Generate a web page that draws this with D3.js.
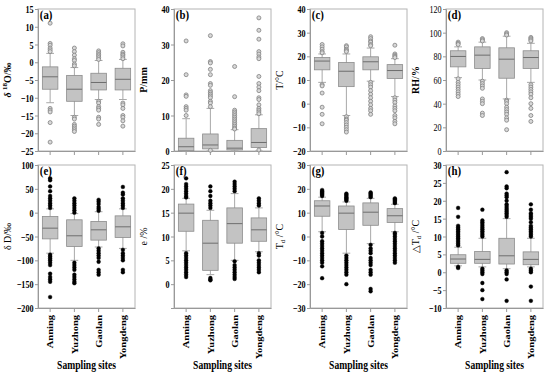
<!DOCTYPE html>
<html>
<head>
<meta charset="utf-8">
<script src="https://cdn.jsdelivr.net/npm/d3@7"></script>
<style>
  body { margin: 0; background: #fff; }
  text { font-family: "Liberation Serif", "Times New Roman", serif; }
</style>
</head>
<body>
<div id="chart"></div>
<script>
var sites = ["Anning", "Yuzhong", "Gaolan", "Yongdeng"];

// box stats per site: [whisker low, q1, median, q3, whisker high]
var d18O_box = [[-11.4, -7.6, -4.1, -1.3, 2.5], [-15, -11, -7.6, -3.7, -1.5], [-10.5, -7.8, -5.7, -3.1, 0.5], [-10.5, -7.8, -4.8, -1.7, 0.8]];
var d18O_out = [[11, 5.3, 4.8, 4, 3.5, 3, -13, -13.5, -14, -17, -22.5],
                [4, 3, 2, 1, 0.5, -0.5, -1, -15.5, -16, -17.5, -18, -18.5, -19, -19.5],
                [3.2, 2.7, 2.2, 1.8, 1.3, 0.8, -11, -11.5, -12.5, -13, -13.5, -15.5, -16, -17.5],
                [5.2, 4.6, 2.8, 2.3, 2, 1.5, 1, -11.5, -12, -13, -15, -15.5, -16.5, -18]];

var P_box = [[0, 0.1, 1.2, 3.6, 9.1], [0, 0.6, 1.7, 4.8, 12], [0, 0.3, 0.8, 3, 6], [0, 1, 2.4, 6.3, 10.2]];
var P_out = [[31, 21.5, 15.8, 15.4, 12.5, 12, 11.5, 10],
             [32.5, 25.2, 24.8, 23, 21.5, 19, 18.5, 17, 16.5, 16, 15.5, 15, 14, 13.5, 12.5, 0.2],
             [23.8, 15.3, 11.5, 11, 10.5, 10, 9.5, 9, 8.5, 8, 7.5, 7, 6.5, 6.2],
             [37.5, 34, 31.5, 28, 27.3, 26.5, 26, 21, 19, 18, 17, 15, 14.5, 13, 12, 11.5, 11, 10.5, 0.3]];

var T_box = [[9, 14.3, 18, 19.5, 21], [-5, 7.2, 13.7, 17.4, 21], [9.5, 14.3, 17.7, 19.8, 23.5], [3, 10.6, 14, 16.5, 19]];
var T_out = [[25, 24, 23, 22, 21.5, 8, 7.5, 4.5, -1.5, -4.5, -8.5],
             [24.5, 24, 23, 22.5, 22, -5.5, -6.5, -7, -8, -9, -10, -11, -12],
             [28.3, 27.5, 26.5, 26, 25, 24.5, 9, 8, 7, 5.5, 4, 2.5, 1, -0.5, -2, -3, -4.5],
             [24.7, 21, 20.5, 20, 19.5, 2.5, 1.5, 0.5, -1, -2, -3, -5, -6, -7.5, -8.5]];

var RH_box = [[62, 71.1, 79.9, 84.7, 88], [60, 69.7, 81, 88, 92], [44, 61.5, 77.6, 87.2, 97], [58, 69.7, 79, 84.7, 91]];
var RH_out = [[92, 91, 90, 61, 58, 56, 54, 52, 50, 48, 46],
              [95, 94, 93, 59, 57, 55, 53, 44, 42, 40, 32, 30],
              [100, 99, 98, 43, 42, 40, 37, 35, 33, 31, 28, 26, 18],
              [96, 95, 94, 93, 56, 54, 52, 50, 48, 45, 40, 36, 30, 25]];

var dD_box = [[-85, -55, -32.5, -8, 8], [-100, -71, -48.5, -15, -2], [-72, -57.6, -36, -18.5, 2], [-75, -52, -29.7, -6.7, 8]];
var dD_out = [[72, 68, 55, 45, 35, 30, 25, 20, 15, 10, -88, -92, -96, -100, -105, -110, -128, -135, -140, -145, -177],
              [30, 25, 20, 15, 10, 5, 0, -105, -110, -115, -120, -130, -135, -140, -145, -148],
              [27, 23, 18, 12, 8, 4, -75, -80, -85, -90, -95, -103, -120, -125, -130],
              [54, 42, 38, 30, 25, 20, 15, 10, -78, -85, -90, -95, -100, -120, -125]];

var e_box = [[7, 11.1, 14.9, 16.8, 18], [2, 2.9, 8.6, 13.4, 15.5], [5, 8.6, 12.7, 16, 19], [6.8, 9, 11.4, 13.9, 16]];
var e_out = [[22.2, 21, 20.5, 20, 19.5, 19, 18.5, 18.2, 6.5, 6, 5.5, 5, 4.5, 4, 3.5, 3, 2.5, 2, 1.5],
             [20.5, 19.5, 18.5, 17.5, 17, 16.5, 16, 1.3, 1, 0.8],
             [21.5, 21, 20.5, 20, 19.5, 4.8, 4, 3.5, 3, 2.5, 2, 1.5, 1.1],
             [18, 17.5, 17, 16.5, 6.5, 6, 5, 4.5, 4, 3.5, 3, 2.5]];

var Td_box = [[2, 8.5, 12.8, 15, 16.5], [-7, 2.9, 9.8, 12.8, 14.5], [-3, 4.7, 10.2, 14.1, 16], [2, 5.9, 8.7, 11.7, 13.5]];
var Td_out = [[19.5, 19, 18.5, 18, 17.5, 17, 1.5, 0, -2, -3, -4, -5, -6, -7, -8, -9, -10, -11, -12.5, -17.5],
              [18, 17.5, 17, 16.5, 16, 15.5, 15, -8, -9, -10, -11, -12, -13, -14, -15, -16, -20],
              [18.5, 18, 17.5, 17, 16.5, -3.5, -5, -6, -7, -9, -10, -11, -12, -14, -15, -16, -22, -23],
              [16, 15.5, 15, 14.5, 14, 1.5, 1, 0, -1, -2, -3, -4, -5, -6, -7, -8, -9, -10, -11]];

var dTd_box = [[1.8, 2.5, 3.7, 4.9, 7], [1.5, 2.5, 3.6, 5.8, 9.5], [1, 2.3, 4.6, 9.5, 15], [1.5, 2.1, 3.6, 5.7, 9.5]];
var dTd_out = [[18, 15.5, 13, 12.5, 12, 11.5, 11, 10.5, 10, 9.5, 9, 8.5, 8, 7.5, 1.5, 1.2],
               [17.5, 14.5, 14, 13.5, 13, 12.5, 12, 11.5, 11, 10.5, 10, 1, 0.5, 0, -0.5, -3, -5, -7.5],
               [28, 24, 23.5, 22, 21.5, 21, 20, 19, 18.5, 18, 17.5, 17, 16.5, 16, 15.5, 0.5, 0, -0.5, -2, -8],
               [19, 17.5, 16.5, 16, 15.5, 15, 14, 13, 12.5, 12, 11.5, 11, 10.5, 10, 1, 0.5, 0, -4, -8]];

var panels = [
  {tag: "(a)", box: d18O_box, out: d18O_out, domain: [-25, 15], ticks: d3.range(-25, 16, 5), label: "d18O", bold: true},
  {tag: "(b)", box: P_box, out: P_out, domain: [0, 40], ticks: d3.range(0, 41, 10), label: "P/mm", bold: true},
  {tag: "(c)", box: T_box, out: T_out, domain: [-20, 40], ticks: d3.range(-20, 41, 10), label: "T/°C", bold: true},
  {tag: "(d)", box: RH_box, out: RH_out, domain: [0, 120], ticks: d3.range(0, 121, 20), label: "RH/%", bold: false},
  {tag: "(e)", box: dD_box, out: dD_out, domain: [-200, 100], ticks: d3.range(-200, 101, 50), label: "δ D/‰", bold: true},
  {tag: "(f)", box: e_box, out: e_out, domain: [-5, 25], ticks: d3.range(0, 26, 5), label: "e /%", bold: true},
  {tag: "(g)", box: Td_box, out: Td_out, domain: [-30, 30], ticks: d3.range(-30, 31, 10), label: "Td", bold: true},
  {tag: "(h)", box: dTd_box, out: dTd_out, domain: [-10, 30], ticks: d3.range(-10, 31, 5), label: "dTd", bold: true}
];

var W = 550, H = 373;
var lefts = [38, 174, 310, 446], pw = 97;
var rows = [{top: 9, bottom: 151}, {top: 165, bottom: 308}];
var boldTitles = ["d18O", "P/mm", "RH/%"];

var svg = d3.select("#chart").append("svg")
    .attr("width", W)
    .attr("height", H);

panels.forEach(function(p, i) {
    var col = i % 4, row = Math.floor(i / 4);
    var left = lefts[col], top = rows[row].top, bottom = rows[row].bottom;
    var g = svg.append("g").attr("transform", "translate(" + left + "," + top + ")");
    var h = bottom - top;

    var x = d3.scaleBand().domain(sites).range([0, pw]);
    var y = d3.scaleLinear().domain(p.domain).range([h, 0]);
    var bw = x.bandwidth() * 0.64;

    // frame
    g.append("rect")
        .attr("width", pw).attr("height", h)
        .attr("fill", "none").attr("stroke", "#b4b4b4").attr("stroke-width", 1);

    // y axis
    var ya = g.append("g")
        .call(d3.axisLeft(y).tickValues(p.ticks).tickSize(3).tickPadding(3).tickFormat(d3.format("d")));
    ya.select(".domain").attr("stroke", "#999");
    ya.selectAll(".tick line").attr("stroke", "#999");
    ya.selectAll("text")
        .attr("font-size", 11)
        .attr("font-weight", p.bold ? "bold" : "normal")
        .attr("fill", "#000")
        .attr("transform", "scale(0.74,1)");

    // x axis
    var xa = g.append("g")
        .attr("transform", "translate(0," + h + ")")
        .call(d3.axisBottom(x).tickSize(4).tickSizeOuter(0).tickFormat(row === 1 ? null : ""));
    xa.select(".domain").attr("stroke", "#999");
    xa.selectAll(".tick line").attr("stroke", "#999");
    if (row === 1) {
        xa.selectAll("text")
            .attr("font-size", 10.5)
            .attr("font-weight", "bold")
            .attr("fill", "#000")
            .attr("transform", "rotate(-90) scale(1,0.85)")
            .attr("text-anchor", "end")
            .attr("x", -7)
            .attr("y", 0)
            .attr("dy", "0.35em");
    }

    // boxes
    var bx = g.selectAll(".box").data(p.box).enter().append("g")
        .attr("transform", function(d, k) { return "translate(" + (x(sites[k]) + x.bandwidth() / 2) + ",0)"; });

    bx.append("line")
        .attr("y1", function(d) { return y(d[0]); }).attr("y2", function(d) { return y(d[4]); })
        .attr("stroke", "#a8a8a8").attr("stroke-width", 1);
    bx.append("line")
        .attr("x1", -bw / 4).attr("x2", bw / 4)
        .attr("y1", function(d) { return y(d[0]); }).attr("y2", function(d) { return y(d[0]); })
        .attr("stroke", "#a8a8a8");
    bx.append("line")
        .attr("x1", -bw / 4).attr("x2", bw / 4)
        .attr("y1", function(d) { return y(d[4]); }).attr("y2", function(d) { return y(d[4]); })
        .attr("stroke", "#a8a8a8");
    bx.append("rect")
        .attr("x", -bw / 2).attr("width", bw)
        .attr("y", function(d) { return y(d[3]); })
        .attr("height", function(d) { return y(d[1]) - y(d[3]); })
        .attr("fill", "#c3c3c3").attr("stroke", "#8c8c8c").attr("stroke-width", 0.8);
    bx.append("line")
        .attr("x1", -bw / 2).attr("x2", bw / 2)
        .attr("y1", function(d) { return y(d[2]); }).attr("y2", function(d) { return y(d[2]); })
        .attr("stroke", "#6e6e6e").attr("stroke-width", 1);

    // outliers
    p.out.forEach(function(vals, k) {
        g.selectAll(".o" + k).data(vals).enter().append("circle")
            .attr("cx", x(sites[k]) + x.bandwidth() / 2)
            .attr("cy", function(v) { return y(v); })
            .attr("r", row === 0 ? 2 : 1.9)
            .attr("fill", row === 0 ? "#d8d8d8" : "#000")
            .attr("stroke", row === 0 ? "#808080" : "#000")
            .attr("stroke-width", row === 0 ? 0.8 : 0.4);
    });

    // panel tag
    g.append("text")
        .attr("x", 2).attr("y", 10)
        .attr("font-size", 12).attr("font-weight", "bold")
        .attr("transform", "scale(0.9,1)")
        .text(p.tag);

    // y title
    var t = g.append("text")
        .attr("transform", "translate(-27," + (h / 2) + ") rotate(-90)")
        .attr("text-anchor", "middle")
        .attr("font-size", 10)
        .attr("font-weight", boldTitles.indexOf(p.label) >= 0 ? "bold" : "normal");
    if (p.label === "d18O") {
        t.append("tspan").attr("font-style", "italic").text("δ ");
        t.append("tspan").attr("font-size", 7).attr("dy", -4).text("18");
        t.append("tspan").attr("dy", 4).text("O/‰");
    } else if (p.label === "Td" || p.label === "dTd") {
        t.append("tspan").text(p.label === "dTd" ? "△T" : "T");
        t.append("tspan").attr("font-size", 7).attr("dy", 2).text("d");
        t.append("tspan").attr("dy", -2).text(" /°C");
    } else {
        t.text(p.label);
    }

    if (row === 1) {
        g.append("text")
            .attr("transform", "translate(" + (pw / 2) + "," + (H - top - 4) + ") scale(0.8,1)")
            .attr("text-anchor", "middle")
            .attr("font-size", 12).attr("font-weight", "bold")
            .text("Sampling sites");
    }
});
</script>
</body>
</html>
